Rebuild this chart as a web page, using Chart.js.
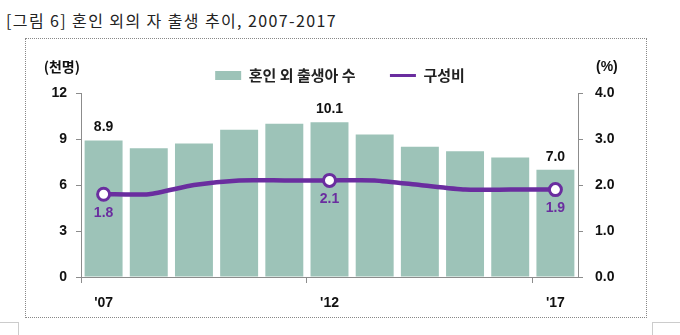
<!DOCTYPE html>
<html>
<head>
<meta charset="utf-8">
<script src="https://cdn.jsdelivr.net/npm/chart.js@4"></script>
<style>
  body { margin: 0; background: #fff; }
  #wrap { position: relative; width: 680px; height: 335px; overflow: hidden; }
  #title { position: absolute; left: 6px; top: 8px; font-family: "Noto Sans CJK KR", sans-serif; font-size: 16px; letter-spacing: 1.4px; color: #222; }
  #frame { position: absolute; left: 25px; top: 38px; width: 620px; height: 278px; border: 1px dotted #888; }
  .mark { position: absolute; border-color: #ccc; border-style: solid; border-width: 0; }
  canvas { position: absolute; left: 0; top: 0; }
</style>
</head>
<body>
<div id="wrap">
  <div id="title">[그림 6] 혼인 외의 자 출생 추이, 2007-2017</div>
  <div id="frame"></div>
  <div class="mark" style="left:0;top:322px;width:18px;height:13px;border-top-width:1px;border-right-width:1px;"></div>
  <div class="mark" style="left:652px;top:322px;width:28px;height:13px;border-top-width:1px;border-left-width:1px;"></div>
  <canvas id="chart" width="680" height="335"></canvas>
</div>
<script>
// 데이터
const years = ["'07", '', '', '', '', "'12", '', '', '', '', "'17"];
const births = [8.9, 8.4, 8.7, 9.6, 10.0, 10.1, 9.3, 8.5, 8.2, 7.8, 7.0]; // 천명
const ratio = [1.8, 1.8, 2.0, 2.1, 2.1, 2.1, 2.1, 2.0, 1.9, 1.9, 1.9];   // %
const labelled = [0, 5, 10];

const barColor = '#9dc3b8';
const lineColor = '#6a2d9f';
const axisColor = '#8c8c8c';
const tickFont = { family: 'Liberation Sans', size: 14, weight: 'bold' };

// 값 표시 + 단위 표시
const valueLabels = {
    id: 'valueLabels',
    afterDatasetsDraw(chart) {
        const ctx = chart.ctx;
        ctx.save();
        ctx.font = 'bold 14px "Liberation Sans"';
        ctx.textAlign = 'center';
        const barMeta = chart.getDatasetMeta(0);
        const lineMeta = chart.getDatasetMeta(1);
        labelled.forEach(i => {
            const b = barMeta.data[i];
            ctx.fillStyle = '#111';
            ctx.textBaseline = 'bottom';
            ctx.fillText(births[i].toFixed(1), b.x, b.y - 6);
            const p = lineMeta.data[i];
            ctx.fillStyle = lineColor;
            ctx.textBaseline = 'top';
            ctx.fillText(ratio[i].toFixed(1), p.x, p.y + 12);
        });
        // 단위
        ctx.fillStyle = '#111';
        ctx.textBaseline = 'middle';
        ctx.font = 'bold 14px "Noto Sans CJK KR"';
        ctx.textAlign = 'right';
        ctx.fillText('(천명)', chart.chartArea.left - 1, 67);
        ctx.textAlign = 'left';
        ctx.font = 'bold 14px "Liberation Sans"';
        ctx.fillText('(%)', chart.chartArea.right + 18, 67);
        ctx.restore();
    }
};

new Chart(document.getElementById('chart').getContext('2d'), {
    data: {
        labels: years,
        datasets: [{
            type: 'bar',
            label: '혼인 외 출생아 수',
            data: births,
            backgroundColor: barColor,
            barPercentage: 0.84,
            categoryPercentage: 1,
            yAxisID: 'y',
            order: 2
        }, {
            type: 'line',
            label: '구성비',
            data: ratio,
            borderColor: lineColor,
            borderWidth: 4.5,
            tension: 0.2,
            pointRadius: ratio.map((v, i) => labelled.includes(i) ? 6 : 0),
            pointHoverRadius: 0,
            pointBackgroundColor: '#fff',
            pointBorderColor: lineColor,
            pointBorderWidth: 3,
            yAxisID: 'y1',
            order: 1
        }]
    },
    options: {
        responsive: false,
        animation: false,
        layout: { padding: { top: 54, left: 0, right: 0, bottom: 0 } },
        plugins: {
            tooltip: { enabled: false },
            legend: {
                position: 'top',
                labels: {
                    usePointStyle: true,
                    pointStyleWidth: 26,
                    boxHeight: 9,
                    padding: 14,
                    color: '#222',
                    font: { family: 'Noto Sans CJK KR', size: 15, weight: 'bold' },
                    sort: (a, b) => a.datasetIndex - b.datasetIndex,
                    generateLabels(chart) {
                        const items = Chart.defaults.plugins.legend.labels.generateLabels(chart);
                        items.forEach(it => {
                            if (it.datasetIndex === 0) {
                                it.pointStyle = 'rect';
                                it.lineWidth = 0;
                                it.fillStyle = barColor;
                                it.text = it.text + '      ';
                            } else {
                                it.pointStyle = 'line';
                                it.lineWidth = 3;
                                it.strokeStyle = lineColor;
                            }
                        });
                        return items;
                    }
                }
            }
        },
        scales: {
            x: {
                offset: true,
                grid: {
                    offset: true,
                    drawOnChartArea: false,
                    tickLength: 6,
                    tickColor: c => (c.index < years.length && years[c.index]) ? axisColor : 'rgba(0,0,0,0)'
                },
                border: { color: axisColor },
                ticks: { autoSkip: false, maxRotation: 0, color: '#111', font: tickFont, padding: 12 },
                afterFit(s) { s.height = 58; }
            },
            y: {
                position: 'left',
                min: 0, max: 12,
                grid: { drawOnChartArea: false, tickLength: 5, color: axisColor },
                border: { color: axisColor },
                ticks: { stepSize: 3, color: '#111', font: tickFont, padding: 9 },
                afterFit(s) { s.width = 81; }
            },
            y1: {
                position: 'right',
                min: 0, max: 4,
                grid: { drawOnChartArea: false, tickLength: 5, color: axisColor },
                border: { color: axisColor },
                ticks: { stepSize: 1, color: '#111', font: tickFont, padding: 12, callback: v => v.toFixed(1) },
                afterFit(s) { s.width = 102; }
            }
        }
    },
    plugins: [valueLabels]
});
</script>
</body>
</html>
